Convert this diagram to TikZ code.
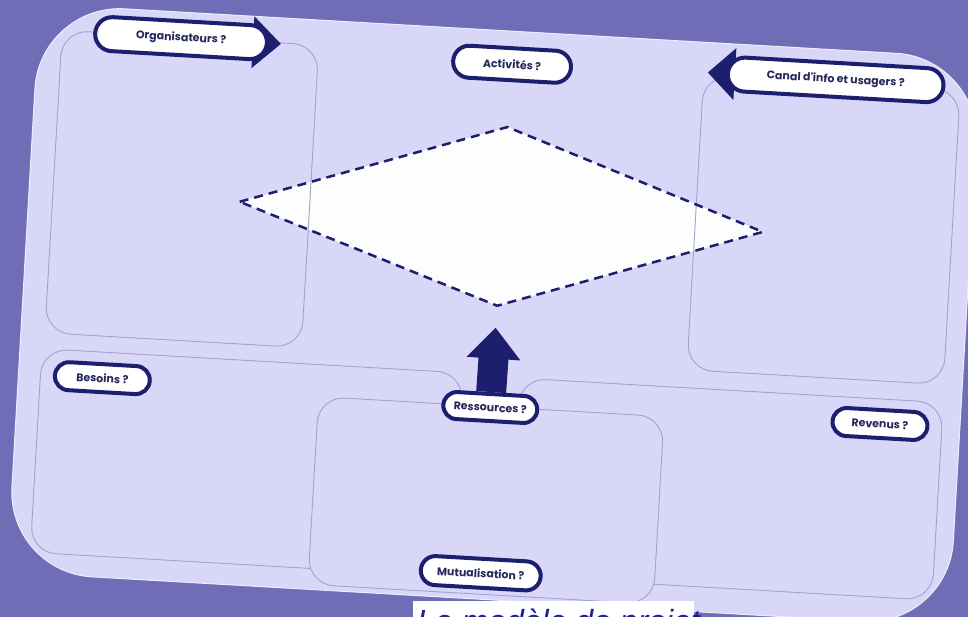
\documentclass[tikz,border=0pt]{standalone}
\usepackage{fontspec}
\newfontfamily\pillfont{Poppins}
\newfontfamily\captfont{Liberation Sans}
\usetikzlibrary{arrows.meta,calc,shapes.misc}
\definecolor{bgpurple}{HTML}{6F6DB6}
\definecolor{card}{HTML}{D8D7F7}
\definecolor{boxline}{HTML}{A3A1CF}
\definecolor{navy}{HTML}{1B1F6E}
\definecolor{navytext}{HTML}{262859}
\definecolor{captblue}{HTML}{1E1E9A}
\begin{document}
\begin{tikzpicture}[x=1pt,y=-1pt,
  panel/.style={draw=boxline, line width=0.9pt, rounded corners=26pt},
  pill/.style={rounded rectangle, draw=navy, line width=4pt, fill=white,
    text=navytext, font=\pillfont\bfseries\fontsize{11}{13}\selectfont,
    inner sep=0pt, minimum height=#1},
  pill/.default=28pt,
  pillhead/.style={fill=navy},
  dashline/.style={draw=navy, line width=2.5pt, dash pattern=on 9pt off 6pt, line join=round}
]
\useasboundingbox (0,0) rectangle (968,617);
\clip (0,0) rectangle (968,617);
\fill[bgpurple] (0,0) rectangle (968,617);

\begin{scope}[rotate around={-3.3:(484,308)}, transform shape]
  % card
  \fill[card, draw=white!55!card, line width=1pt, rounded corners=85pt] (23,30) rectangle (966,599);

  % diamond
  \coordinate (dl) at (234,216);
  \coordinate (dt) at (497,126);
  \coordinate (dr) at (758,216);
  \coordinate (db) at (497,305);
  \fill[white, opacity=.96] (dl) -- (dt) -- (dr) -- (db) -- cycle;

  % panels
  \draw[panel] (47,55) rectangle (304,358);
  \draw[panel] (690,63) rectangle (947,358);
  \draw[panel] (45,374) rectangle (467,578);
  \draw[panel] (524,376) rectangle (948,574);
  \draw[panel, fill=card] (324,406) rectangle (670,594);

  \draw[dashline] (dl) -- (dt) -- (dr) -- (db) -- cycle;

  % label with right arrow
  \coordinate (orgc) at (166,56);
  \fill[pillhead] ($(orgc)+(72,-26)$) -- ($(orgc)+(100,0)$) -- ($(orgc)+(72,26)$) -- cycle;
  \node[pill=34pt, minimum width=172pt] (org) at (orgc) {Organisateurs ?};

  \node[pill=32pt, minimum width=118pt] (act) at (498,63) {Activités ?};

  % label with left arrow
  \coordinate (canc) at (822,60);
  \fill[pillhead] ($(canc)+(-101,-26)$) -- ($(canc)+(-128,0)$) -- ($(canc)+(-101,26)$) -- cycle;
  \node[pill=34pt, minimum width=216pt] (can) at (canc) {Canal d'info et usagers ?};

  \node[pill=28pt, minimum width=95pt] (bes) at (107,400) {Besoins ?};
  \node[pill=27pt, minimum width=94pt] (res) at (496,407) {Ressources ?};
  \node[pill=28pt, minimum width=95pt] (rev) at (886,401) {Revenus ?};
  \node[pill=29pt, minimum width=120pt] (mut) at (496,573) {Mutualisation ?};

  % big arrow
  \draw[navy, line width=30pt, -{Triangle[width=52pt,length=31pt]}, shorten >=22pt] (res.north) -- (db);
\end{scope}

% caption
\fill[white] (413,601) rectangle (694,640);
\node[anchor=base west, inner sep=0pt, text=captblue, font=\captfont\itshape\fontsize{32}{36}\selectfont] (capt) at (417,632) {Le modèle de projet};
\end{tikzpicture}
\end{document}
